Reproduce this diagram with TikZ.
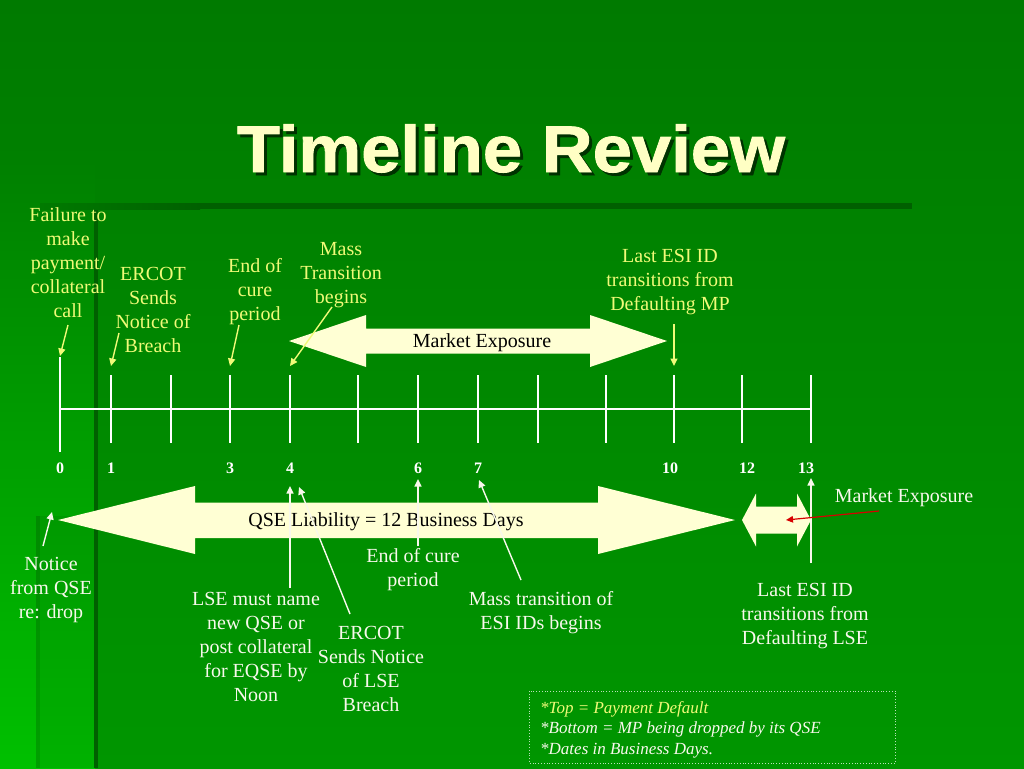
\documentclass[tikz,border=0pt]{standalone}
\usepackage{fontspec}
\setmainfont{Liberation Serif}
\newfontfamily\titlefont{Liberation Sans}[BoldFeatures={FakeBold=1.2}]
\usetikzlibrary{arrows.meta}
\definecolor{bgtop}{RGB}{0,122,0}
\definecolor{bgbot}{RGB}{0,150,0}
\definecolor{lefttop}{RGB}{0,128,0}
\definecolor{leftbot}{RGB}{0,192,0}
\definecolor{darkline}{RGB}{0,96,0}
\definecolor{cream}{RGB}{255,255,212}
\definecolor{titlecol}{RGB}{255,255,196}
\definecolor{titleshadow}{RGB}{0,50,0}
\definecolor{yel}{RGB}{240,250,120}
\definecolor{wht}{RGB}{248,248,236}
\definecolor{redarr}{RGB}{215,0,0}
\definecolor{legbox}{RGB}{185,225,185}
\begin{document}
\begin{tikzpicture}[x=1pt,y=-1pt,
  lbl/.style={align=center, inner sep=0pt, font=\fontsize{20}{24}\selectfont},
  toplbl/.style={lbl, text=yel},
  botlbl/.style={lbl, text=wht},
  numlbl/.style={inner sep=0pt, font=\fontsize{16}{18}\selectfont\bfseries, text=white},
  tickline/.style={draw=white, line width=1.1pt},
  yarrow/.style={draw=yel, line width=1.4pt, -{Triangle[length=7.5pt,width=7pt]}},
  warrow/.style={draw=wht, line width=1.4pt, -{Triangle[length=7.5pt,width=7pt]}},
  rarrow/.style={draw=redarr, line width=1.2pt, -{Triangle[length=7pt,width=6.5pt]}},
  block/.style={fill=cream},
  intext/.style={inner sep=0pt, font=\fontsize{20}{24}\selectfont, text=black},
  titletext/.style={inner sep=0pt, anchor=base, xscale=1.07,
      font=\titlefont\bfseries\fontsize{66}{70}\selectfont}
]
\useasboundingbox (0,0) rectangle (1024,768);
% ---------- background ----------
\shade[top color=bgtop, bottom color=bgbot] (0,0) rectangle (1024,768);
\shade[top color=lefttop, bottom color=leftbot] (0,160) rectangle (95,768);
\fill[black, opacity=0.07] (36,516) rectangle (95,768);
\fill[black, opacity=0.10] (36,516) rectangle (40,768);
\fill[darkline] (94,205) rectangle (98,768);
\shade[left color=bgtop, right color=darkline] (40,203) rectangle (200,209);
\fill[darkline] (200,203) rectangle (912,209);
% ---------- title ----------
\node[titletext, text=titleshadow] (titleshadow) at (514,175) {Timeline Review};
\node[titletext, text=titlecol] (title) at (511,172) {Timeline Review};
% ---------- block arrows ----------
\fill[block] (289,341) -- (366,315) -- (366,328.5) -- (590,328.5) -- (590,315) -- (667,341)
  -- (590,367) -- (590,353.5) -- (366,353.5) -- (366,367) -- cycle;
\node[intext] (mexp) at (482,342.5) {Market Exposure};
\fill[block] (58,520) -- (195,486) -- (195,502.5) -- (598,502.5) -- (598,486) -- (735,520)
  -- (598,554) -- (598,538) -- (195,538) -- (195,554) -- cycle;
\node[intext] (qse) at (386,522) {QSE Liability = 12 Business Days};
\fill[block] (742,520) -- (756,493.5) -- (756,506.5) -- (797,506.5) -- (797,493.5) -- (811,520)
  -- (797,546.5) -- (797,533.5) -- (756,533.5) -- (756,546.5) -- cycle;
% ---------- timeline ----------
\draw[tickline] (60,409) -- (811,409);
\draw[tickline] (60,357) -- (60,452);
\foreach \x in {111,171,230,290,358,418,478,538,606,674,742,811}
  \draw[tickline] (\x,375) -- (\x,443);
\foreach \x/\n in {60/0,111/1,230/3,290/4,418/6,478/7,670/10,747/12,806/13}
  \node[numlbl] (n\n) at (\x,468) {\n};
% ---------- top labels ----------
\node[toplbl] (fail) at (68,262.5) {Failure to\\make\\payment/\\collateral\\call};
\node[toplbl] (ercot) at (153,310) {ERCOT\\Sends\\Notice of\\Breach};
\node[toplbl] (cure) at (255,292) {End of\\cure\\period};
\node[toplbl] (mass) at (341,275) {Mass\\Transition\\begins};
\node[toplbl] (lastmp) at (670,282.5) {Last ESI ID\\transitions from\\Defaulting MP};
\coordinate (failS) at (68,325);   \coordinate (t0) at (60,356);
\coordinate (ercotS) at (119,333); \coordinate (t1) at (111,366);
\coordinate (cureS) at (239,325);  \coordinate (t3) at (230,366);
\coordinate (massS) at (332,307);  \coordinate (t4) at (290,366);
\coordinate (lastS) at (674,324);  \coordinate (t10) at (674,366);
\draw[yarrow] (failS) -- (t0);
\draw[yarrow] (ercotS) -- (t1);
\draw[yarrow] (cureS) -- (t3);
\draw[yarrow] (massS) -- (t4);
\draw[yarrow] (lastS) -- (t10);
% ---------- bottom labels ----------
\node[botlbl] (notice) at (51,590) {Notice\\from QSE\\re: drop};
\node[botlbl] (lse) at (256,646.5) {LSE must name\\new QSE or\\post collateral\\for EQSE by\\Noon};
\node[botlbl] (ercotlse) at (371,668.5) {ERCOT\\Sends Notice\\of LSE\\Breach};
\node[botlbl] (cure2) at (413,569.5) {End of cure\\period};
\node[botlbl] (masstr) at (541,612.5) {Mass transition of\\ESI IDs begins};
\node[botlbl] (lastlse) at (805,616) {Last ESI ID\\transitions from\\Defaulting LSE};
\node[botlbl] (mexp2) at (904,497.5) {Market Exposure};
\coordinate (noticeS) at (43,546);  \coordinate (b0) at (52,512);
\coordinate (lseS) at (290,588);    \coordinate (b4) at (290,486);
\coordinate (ercS) at (350,614);    \coordinate (b4b) at (299,487);
\coordinate (cureB) at (418,546);   \coordinate (b6) at (418,479);
\coordinate (massB) at (521,580);   \coordinate (b7) at (479,480);
\coordinate (lastB) at (811,563);   \coordinate (b13) at (811,478);
\coordinate (redS) at (879,511);    \coordinate (redE) at (786,520);
\draw[warrow] (noticeS) -- (b0);
\draw[warrow] (lseS) -- (b4);
\draw[warrow] (ercS) -- (b4b);
\draw[warrow] (cureB) -- (b6);
\draw[warrow] (massB) -- (b7);
\draw[warrow] (lastB) -- (b13);
\draw[rarrow] (redS) -- (redE);
% ---------- legend ----------
\draw[legbox, line width=0.8pt, dotted] (529,691) rectangle (895,763);
\node[anchor=north west, inner sep=0pt, align=left, text=wht,
      font=\fontsize{17}{20.5}\selectfont\itshape] (legend) at (540,701)
  {{\color{yel}*Top = Payment Default}\\{}*Bottom = MP being dropped by its QSE\\{}*Dates in Business Days.};
\end{tikzpicture}
\end{document}
